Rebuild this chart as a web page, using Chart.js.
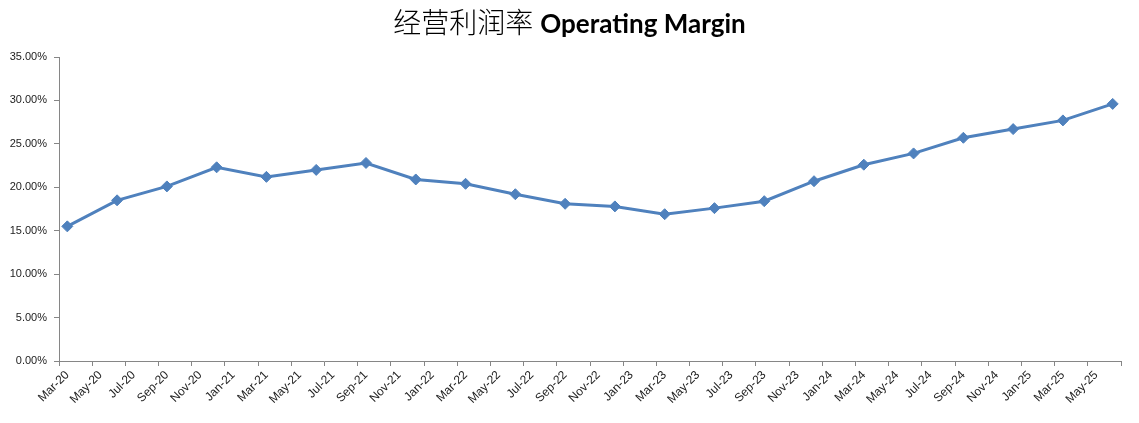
<!DOCTYPE html>
<html>
<head>
<meta charset="utf-8">
<script src="https://cdn.jsdelivr.net/npm/chart.js@4.4.1/dist/chart.umd.min.js"></script>
<style>
  body { margin: 0; background: #fff; }
  #wrap { position: relative; width: 1139px; height: 423px; }
  #title {
    position: absolute; top: 4px; left: 0; width: 1139px;
    text-align: center; line-height: 34px; color: #000;
  }
  #title .cn { font-family: "Noto Sans CJK SC"; font-weight: 300; font-size: 28px; }
  #title .en { font-family: Lato, "Open Sans", sans-serif; font-weight: bold; font-size: 26px; margin-left: 7px; }
</style>
</head>
<body>
<div id="wrap">
  <div id="title"><span class="cn">经营利润率</span><span class="en">Operating Margin</span></div>
  <canvas id="marginChart"></canvas>
</div>
<script>
// Quarter-end dates and operating margin (%)
const quarters = ['Mar-20', 'Jun-20', 'Sep-20', 'Dec-20', 'Mar-21', 'Jun-21', 'Sep-21', 'Dec-21',
    'Mar-22', 'Jun-22', 'Sep-22', 'Dec-22', 'Mar-23', 'Jun-23', 'Sep-23', 'Dec-23',
    'Mar-24', 'Jun-24', 'Sep-24', 'Dec-24', 'Mar-25', 'Jun-25'];
const margins = [15.5, 18.5, 20.1, 22.3, 21.2, 22.0, 22.8, 20.9,
    20.4, 19.2, 18.1, 17.8, 16.9, 17.6, 18.4, 20.7,
    22.6, 23.9, 25.7, 26.7, 27.7, 29.6];

// Month names used to build the monthly date axis (Mar-20 .. Jun-25)
const monthNames = ['Jan', 'Feb', 'Mar', 'Apr', 'May', 'Jun', 'Jul', 'Aug', 'Sep', 'Oct', 'Nov', 'Dec'];
const months = [];
for (let i = 0; i < 64; i++) {
    const m = 2 + i;
    months.push(monthNames[m % 12] + '-' + (20 + Math.floor(m / 12)));
}

const axisColor = '#868686';

const ctx = document.getElementById('marginChart').getContext('2d');
new Chart(ctx, {
    type: 'line',
    data: {
        labels: months,
        datasets: [{
            label: 'Operating Margin',
            data: quarters.map((q, i) => ({ x: q, y: margins[i] })),
            borderColor: '#4F81BD',
            backgroundColor: '#4F81BD',
            borderWidth: 3,
            pointStyle: 'rectRot',
            pointRadius: 5.5,
            pointBorderWidth: 1,
            tension: 0,
            fill: false
        }]
    },
    options: {
        responsive: true,
        maintainAspectRatio: false,
        animation: false,
        layout: { padding: { top: 57, right: 18, left: 0, bottom: 0 } },
        plugins: {
            legend: { display: false },
            tooltip: { enabled: false }
        },
        scales: {
            x: {
                type: 'category',
                offset: true,
                grid: {
                    offset: true,
                    drawOnChartArea: false,
                    tickLength: 5,
                    tickColor: c => (c.index === undefined || c.index % 2 === 0) ? axisColor : 'rgba(0,0,0,0)'
                },
                border: { color: axisColor, width: 1 },
                ticks: {
                    autoSkip: false,
                    maxRotation: 45,
                    minRotation: 45,
                    padding: 2,
                    color: '#222',
                    font: { family: 'Liberation Sans', size: 12 },
                    callback: function (value, index) {
                        return index % 2 === 0 ? this.getLabelForValue(value) : '';
                    }
                },
                afterFit: scale => { scale.height = 62; }
            },
            y: {
                min: 0,
                max: 35,
                grid: { drawOnChartArea: false, tickLength: 5, tickColor: axisColor },
                border: { color: axisColor, width: 1 },
                ticks: {
                    stepSize: 5,
                    padding: 7,
                    color: '#222',
                    font: { family: 'Liberation Sans', size: 11 },
                    callback: v => v.toFixed(2) + '%'
                },
                afterFit: scale => { scale.width = 59; }
            }
        }
    }
});
</script>
</body>
</html>
